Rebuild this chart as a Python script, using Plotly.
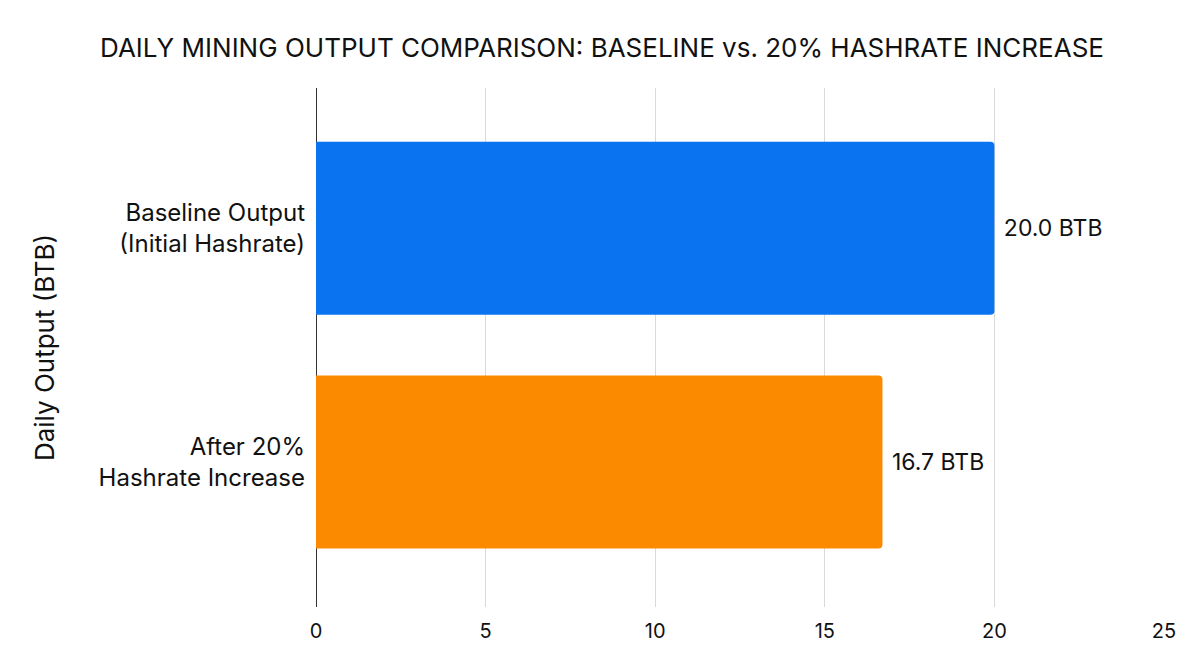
import plotly.graph_objects as go

# data
categories = ["Baseline Output<br>(Initial Hashrate)", "After 20%<br>Hashrate Increase"]
output_btb = [20.0, 16.7]
bar_labels = ["20.0 BTB", "16.7 BTB"]
bar_colors = ["#0A73F0", "#FB8A00"]
x_ticks = [0, 5, 10, 15, 20, 25]

fig = go.Figure()

fig.add_trace(go.Bar(x=output_btb,
                     y=categories,
                     orientation="h",
                     marker=dict(color=bar_colors, line=dict(width=0)),
                     text=bar_labels,
                     texttemplate="\u00a0%{text}",
                     textposition="outside",
                     textfont=dict(size=23, color="#111111"),
                     cliponaxis=False,
                     width=0.74))

# page body adds an 8px offset, margins are set with that in mind
fig.update_layout(
    width=1200, height=670,
    title=dict(text="DAILY MINING OUTPUT COMPARISON: BASELINE vs. 20% HASHRATE INCREASE",
               x=0.495, xanchor="center", y=0.94, yanchor="middle",
               font=dict(size=26, color="#111111")),
    font=dict(family="Inter, Roboto, sans-serif", color="#111111"),
    plot_bgcolor="white", paper_bgcolor="white",
    margin=dict(l=308, r=44, t=80, b=71),
    barcornerradius=4,
    showlegend=False)

fig.update_xaxes(range=[0, 25], tickvals=x_ticks, automargin=False,
                 showgrid=True, gridcolor="#d9d9d9", gridwidth=1,
                 zeroline=True, zerolinecolor="#333333", zerolinewidth=1.2,
                 showline=False, ticks="", ticklabelstandoff=10,
                 tickfont=dict(size=20, color="#111111"))

fig.update_yaxes(range=[1.62, -0.6], ticks="", showline=False, showgrid=False,
                 automargin=False, ticklabelstandoff=10,
                 tickfont=dict(size=24, color="#111111"),
                 title=dict(text="Daily Output (BTB)", font=dict(size=26, color="#111111"),
                            standoff=36))

fig.write_html("out.html")
